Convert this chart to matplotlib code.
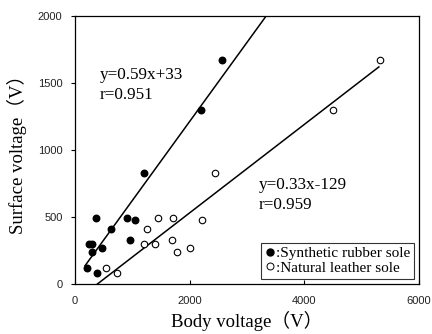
import matplotlib
matplotlib.use("Agg")
import matplotlib.pyplot as plt
from matplotlib.lines import Line2D
import numpy as np

# Synthetic rubber sole (filled)
rubber_x = [204, 250, 300, 302, 361, 390, 465, 623, 902, 954, 1047, 1204, 2193, 2571]
rubber_y = [117, 296, 296, 241, 495, 84, 266, 408, 495, 328, 478, 831, 1299, 1669]
# Natural leather sole (open)
leather_x = [535, 727, 1210, 1251, 1396, 1455, 1699, 1716, 1786, 2007, 2222, 2449, 4508, 5317]
leather_y = [117, 84, 296, 408, 296, 495, 328, 495, 241, 266, 478, 831, 1296, 1669]

rubber_fit = (0.59, 33)
leather_fit = (0.33, -129)
rubber_range = [175, 3600]
leather_range = [390, 5300]

xticks = [0, 2000, 4000, 6000]
yticks = [0, 500, 1000, 1500, 2000]

serif = ['Liberation Serif', 'Noto Sans CJK JP', 'DejaVu Sans']
sans = ['Liberation Sans', 'DejaVu Sans']

fig = plt.figure(figsize=(4.32, 3.34), dpi=100)
ax = fig.add_axes([75/432, 50/334, 344/432, 268/334])

ax.scatter(rubber_x, rubber_y, s=22, c='black', zorder=3)
ax.scatter(leather_x, leather_y, s=22, facecolors='white', edgecolors='black', linewidths=0.8, zorder=3)

for (m, b), rng in [(rubber_fit, rubber_range), (leather_fit, leather_range)]:
    xs = np.array(rng)
    ax.plot(xs, m * xs + b, color='black', lw=1.1, zorder=2)

ax.set_xlim(0, 6000)
ax.set_ylim(0, 2000)
ax.set_xticks(xticks)
ax.set_yticks(yticks)
for lab in ax.get_xticklabels() + ax.get_yticklabels():
    lab.set_family(sans)
    lab.set_fontsize(8)
    lab.set_color('#222222')
ax.tick_params(axis='y', direction='out', length=3, width=0.8, pad=6)
ax.tick_params(axis='x', direction='in', length=3, width=0.8, pad=9)
for s in ax.spines.values():
    s.set_linewidth(0.9)

ax.set_xlabel('Body voltage（V）', family=serif, fontsize=13.5, labelpad=3)
ax.set_ylabel('Surface voltage（V）', family=serif, fontsize=13.5, labelpad=8)

def px2data(px, py):
    return (px - 75) / 344 * 6000, (284 - py) / 268 * 2000

for s, (px, py) in [('y=0.59x+33', (100, 75)), ('r=0.951', (100, 95)),
                    ('y=0.33x-129', (259, 185)), ('r=0.959', (259, 205))]:
    ax.text(*px2data(px, py), s, family=serif, fontsize=12.3, va='center', ha='left')

handles = [Line2D([], [], marker='o', ls='none', color='black', markersize=5),
           Line2D([], [], marker='o', ls='none', markerfacecolor='white', markeredgecolor='black', markersize=5, markeredgewidth=0.7)]
leg = ax.legend(handles, [':Synthetic rubber sole', ':Natural leather sole'],
                loc='lower right', bbox_to_anchor=(0.985, 0.02), prop={'family': serif, 'size': 11},
                handlelength=0.6, handletextpad=0.1, borderpad=0.25, labelspacing=0.05,
                frameon=True, fancybox=False, edgecolor='black', borderaxespad=0)
leg.get_frame().set_linewidth(0.8)

fig.savefig('out.png', dpi=100)
